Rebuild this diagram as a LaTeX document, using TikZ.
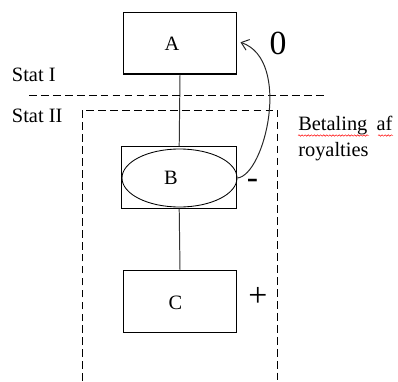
\documentclass[tikz,border=0pt]{standalone}
\usepackage{fontspec}
\setmainfont{Liberation Serif}
\usetikzlibrary{arrows.meta,decorations.pathmorphing,shapes.geometric}

\tikzset{
	boks/.style={draw, line width=0.8pt, minimum width=113.4*0.025cm, minimum height=61.5*0.025cm, inner sep=0pt},
	stiplet/.style={dash pattern=on 5.5pt off 3pt, line width=0.6pt},
	tekst/.style={font=\fontsize{14.5}{17}\selectfont, inner sep=0pt},
	stor/.style={font=\fontsize{24}{28}\selectfont, inner sep=0pt}
}

\begin{document}
\begin{tikzpicture}[x=0.025cm, y=-0.025cm]
		\useasboundingbox (0,0) rectangle (398,381);

		\node [boks] (boxA) at (180, 43.3) {};
		\node [tekst] (labA) at (172, 44) {A};

		\node [boks, minimum width=115*0.025cm] (boxB) at (179.2, 177.5) {};
		\node [draw, ellipse, line width=0.6pt, minimum width=115*0.025cm, minimum height=58*0.025cm, inner sep=0pt] (ellB) at (179.5, 178) {};
		\node [tekst] (labB) at (171, 178) {B};

		\node [boks, minimum height=62*0.025cm] (boxC) at (180, 301.7) {};
		\node [tekst] (labC) at (175.5, 303) {C};

		\draw [line width=0.7pt, black!80] (boxA.south) -- (boxB.north);
		\draw [line width=0.7pt, black!80] (boxB.south) -- (boxC.north);

		% stat I / stat II
		\draw [stiplet] (29, 95) -- (326.7, 95);
		\draw [stiplet] (82.3, 381) -- (82.3, 110) -- (277.7, 110) -- (277.7, 381);
		\node [tekst, anchor=base west] (statI) at (11.7, 81) {Stat I};
		\node [tekst, anchor=base west] (statII) at (11.7, 122.7) {Stat II};

		\node [tekst, anchor=base west] (bet) at (298, 130.7) {Betaling\hspace{0.45em}af};
		\node [tekst, anchor=base west] (roy) at (298, 156.7) {royalties};
		\draw [red, line width=0.35pt, decorate, decoration={snake, amplitude=0.5pt, segment length=2.2pt}] (298, 135.5) -- (369, 135.5);
		\draw [red, line width=0.35pt, decorate, decoration={snake, amplitude=0.5pt, segment length=2.2pt}] (378, 135.5) -- (393, 135.5);

		\coordinate (tip) at (240.5, 42.3);
		\draw [line width=0.7pt, black!85, -{Straight Barb[length=5pt, width=8pt]}] (ellB.east) .. controls (265, 175) and (292, 60) .. (tip);

		\node [stor] (nul) at (278, 43) {0};
		\node [stor] (minus) at (252.5, 184) {-};
		\node [stor] (plus) at (258, 297) {+};
	\end{tikzpicture}
\end{document}
